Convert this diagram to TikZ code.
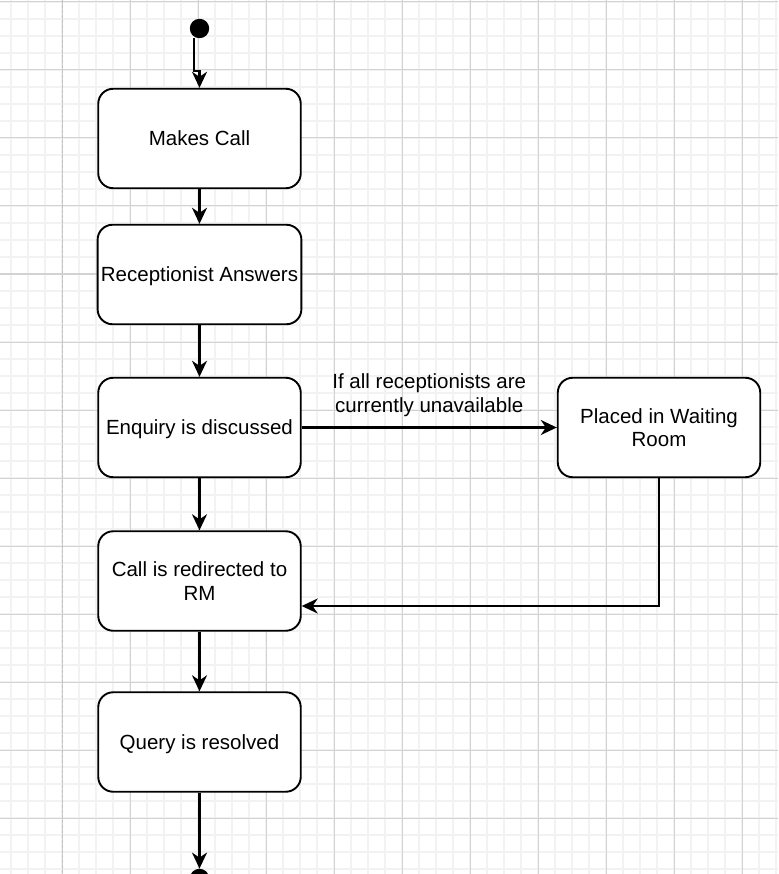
\documentclass[tikz,border=0pt]{standalone}
\usepackage{fontspec}
\setmainfont{Liberation Sans}
\usetikzlibrary{arrows.meta,shapes}
\definecolor{gridminor}{RGB}{242,242,242}
\definecolor{gridmajor}{RGB}{210,210,210}
\definecolor{lanegray}{RGB}{192,192,192}
\tikzstyle{activity}=[draw, fill=white, rounded corners=15pt, line width=1.9pt, minimum width=202.5pt, minimum height=99.5pt, align=center, text depth=0pt, font=\fontsize{20.5}{23.3}\selectfont]
\tikzstyle{flow}=[line width=2.1pt, -{Stealth[length=16pt,width=15pt,inset=5pt]}]
\tikzstyle{terminal}=[circle, fill=black, inner sep=0pt, minimum size=19.4pt]
\tikzstyle{guard}=[inner sep=0pt, align=center, font=\fontsize{20.5}{23.3}\selectfont]

\begin{document}
\begin{tikzpicture}[x=1pt,y=-1pt]
\useasboundingbox (0,0) rectangle (778,874);
\clip (0,0) rectangle (778,874);
%grid
\foreach \gx in {-6,11,...,778} \draw[gridminor, line width=1.5pt] (\gx,0) -- (\gx,874);
\foreach \gy in {-15,2,...,874} \draw[gridminor, line width=1.5pt] (0,\gy) -- (778,\gy);
\foreach \gx in {-6,62,...,778} \draw[gridmajor, line width=1pt] (\gx,0) -- (\gx,874);
\foreach \gy in {2,70,...,874} \draw[gridmajor, line width=1pt] (0,\gy) -- (778,\gy);
\draw[lanegray, line width=1.5pt, dash pattern=on 3pt off 2pt] (62.7,0) -- (62.7,874);
%nodes
\node[terminal] (start) at (199.5,28.5) {};
\node[activity] (makes) at (199.5,138.5) {Makes Call};
\node[activity] (answers) at (199.5,274.5) {Receptionist Answers};
\node[activity] (discuss) at (199.5,427.5) {Enquiry is discussed};
\node[activity] (waiting) at (659,427.5) {Placed in Waiting\\Room};
\node[activity] (redirect) at (199.5,581) {Call is redirected to\\RM};
\node[activity] (resolved) at (199.5,742) {Query is resolved};
\node[terminal] (finish) at (199.5,878.5) {};
%connectors
\draw[flow] ([xshift=-5.5pt]start.south) |- ([yshift=17pt]makes.north) -- (makes.north);
\draw[flow] (makes) -- (answers);
\draw[flow] (answers) -- (discuss);
\draw[flow] (discuss) -- node[guard, above=10pt] {If all receptionists are\\currently unavailable} (waiting);
\draw[flow] (discuss) -- (redirect);
\draw[flow] (waiting.south) |- ([yshift=-25pt]redirect.east);
\draw[flow] (redirect) -- (resolved);
\draw[flow] (resolved) -- (finish);
\end{tikzpicture}
\end{document}
